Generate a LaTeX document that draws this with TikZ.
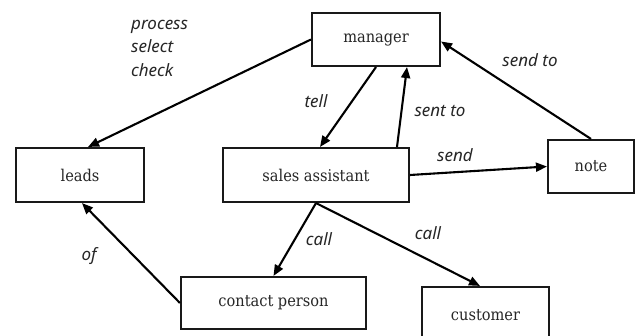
\documentclass[tikz,border=0pt]{standalone}
\usepackage{fontspec}
\setmainfont{DejaVu Serif Condensed}
\newfontfamily\relfont{Noto Sans}
\usetikzlibrary{arrows.meta}
\tikzset{
  box/.style={draw=black!90, line width=2.1pt, fill=white, inner sep=0pt,
    font=\fontsize{16.2}{19}\selectfont, text=black!85},
  rel/.style={line width=2.1pt, draw=black,
    -{Triangle[length=11pt,width=9pt]}},
  lbl/.style={font=\relfont\itshape\fontsize{17}{23.5}\selectfont, text=black!85, inner sep=0pt}
}
\begin{document}
\begin{tikzpicture}[x=1pt,y=-1pt]
  \useasboundingbox (0,0) rectangle (638,336);
  \clip (0,0) rectangle (638,336);
  \fill[white] (0,0) rectangle (638,336);

  % entities
  \node[box, minimum width=128pt, minimum height=53pt] (manager)  at (376,39.5)  {manager};
  \node[box, minimum width=128pt, minimum height=54pt] (leads)    at (80,175)    {leads};
  \node[box, minimum width=186pt, minimum height=54pt] (sales)    at (316,175)   {sales assistant};
  \node[box, minimum width=86pt,  minimum height=53pt] (note)     at (591,166.5) {note};
  \node[box, minimum width=185pt, minimum height=52pt] (contact)  at (273.5,303) {contact person};
  \node[box, minimum width=127pt, minimum height=56pt] (customer) at (485.5,315) {customer};

  % relations
  \draw[rel] (manager.west) -- ([xshift=8pt]leads.north);
  \draw[rel] (manager.south) -- ([xshift=4pt]sales.north);
  \draw[rel] ([xshift=81pt]sales.north) -- ([xshift=31pt]manager.south);
  \draw[rel] (note.north) -- ([yshift=-2pt]manager.east);
  \draw[rel] (sales.east) -- (note.west);
  \draw[rel] (contact.west) -- ([xshift=2pt]leads.south);
  \draw[rel] (sales.south) -- (contact.north);
  \draw[rel] (sales.south) -- ([xshift=-5.5pt]customer.north);

  % relation names
  \node[lbl, anchor=north west, align=left] (tpsc) at (131,20) {process\\select\\check};
  \node[lbl] (ttell)   at (316,101) {tell};
  \node[lbl] (tsentto) at (440,111) {sent to};
  \node[lbl] (tsendto) at (530,60)  {send to};
  \node[lbl] (tsend)   at (455,155) {send};
  \node[lbl] (tof)     at (89,256)  {of};
  \node[lbl] (tcall1)  at (319,239) {call};
  \node[lbl] (tcall2)  at (428,233) {call};
\end{tikzpicture}
\end{document}
